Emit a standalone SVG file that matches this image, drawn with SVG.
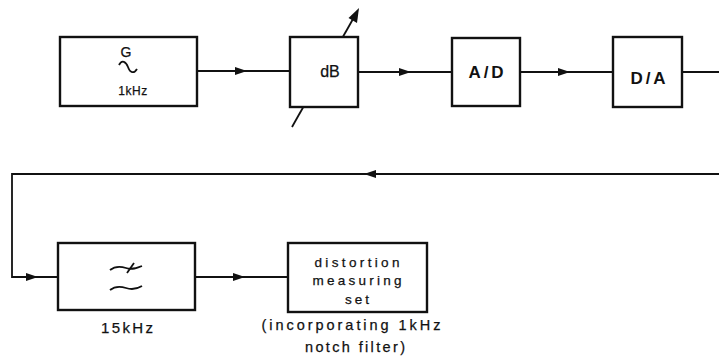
<svg xmlns="http://www.w3.org/2000/svg" width="719" height="359" viewBox="0 0 719 359">
<defs>
<style>
.box{fill:#fff;stroke:#111;stroke-width:2.4}
.ln{fill:none;stroke:#111;stroke-width:1.8}
.ah{fill:#111;stroke:none}
.t{font-family:"Liberation Sans",Arial,sans-serif;fill:#111;text-anchor:middle;stroke:#111;stroke-width:0.25}
.b{font-weight:bold;stroke-width:0}
</style>
</defs>
<rect width="719" height="359" fill="#fff"/>
<g id="connectors">
<line class="ln" x1="197" y1="71" x2="290" y2="71"/>
<path class="ah" d="M235,67 L247,71 L235,75 Z"/>
<line class="ln" x1="358" y1="72" x2="452" y2="72"/>
<path class="ah" d="M399,68 L411,72 L399,76 Z"/>
<line class="ln" x1="520" y1="72" x2="613" y2="72"/>
<path class="ah" d="M558,68 L570,72 L558,76 Z"/>
<line class="ln" x1="682" y1="72" x2="719" y2="72"/>
<polyline class="ln" points="719,174 12,174 12,277 58,277"/>
<path class="ah" d="M376,170 L364,174 L376,178 Z"/>
<path class="ah" d="M26,273 L38,277 L26,281 Z"/>
<line class="ln" x1="195" y1="277" x2="288" y2="277"/>
<path class="ah" d="M233,273 L245,277 L233,281 Z"/>
</g>
<g id="generator">
<rect class="box" x="60" y="37" width="137" height="69"/>
<text class="t" x="126" y="57" font-size="14">G</text>
<path class="ln" d="M119,65 C122,59 126,62 128,67 C130,73 134,74 137,69" stroke-width="1.8"/>
<text class="t" x="133" y="95" font-size="12" letter-spacing="0.5">1kHz</text>
</g>
<g id="attenuator">
<line class="ln" x1="292" y1="127" x2="353" y2="19"/>
<path class="ah" d="M359,8 L357,23 L348.5,18 Z"/>
<rect class="box" x="290" y="37" width="68" height="70"/>
<text class="t" x="330" y="77" font-size="16">dB</text>
</g>
<g id="adc">
<rect class="box" x="452" y="38" width="68" height="68"/>
<text class="t b" x="486" y="78" font-size="17" textLength="35" lengthAdjust="spacing">A/D</text>
</g>
<g id="dac">
<rect class="box" x="613" y="37" width="69" height="70"/>
<text class="t b" x="648" y="84" font-size="17" textLength="35" lengthAdjust="spacing">D/A</text>
</g>
<g id="filter">
<rect class="box" x="58" y="243" width="137" height="67"/>
<path class="ln" d="M110,270 C115,266 120,266 126,268 C132,270 137,268 142,266" stroke-width="1.8"/>
<line class="ln" x1="127" y1="273" x2="134" y2="263" stroke-width="1.8"/>
<path class="ln" d="M110,290 C115,286 120,286 126,288 C132,290 137,289 142,286" stroke-width="1.8"/>
<text class="t" x="127" y="333" font-size="15" textLength="52" lengthAdjust="spacing">15kHz</text>
</g>
<g id="distortion">
<rect class="box" x="288" y="243" width="139" height="69"/>
<text class="t" x="357" y="267" font-size="13.5" textLength="85" lengthAdjust="spacing">distortion</text>
<text class="t" x="357" y="285" font-size="13.5" textLength="89" lengthAdjust="spacing">measuring</text>
<text class="t" x="357" y="304" font-size="13.5" textLength="24" lengthAdjust="spacing">set</text>
<text class="t" x="351" y="330" font-size="14.5" textLength="179" lengthAdjust="spacing">(incorporating 1kHz</text>
<text class="t" x="355" y="352" font-size="14.5" textLength="100" lengthAdjust="spacing">notch filter)</text>
</g>
</svg>
